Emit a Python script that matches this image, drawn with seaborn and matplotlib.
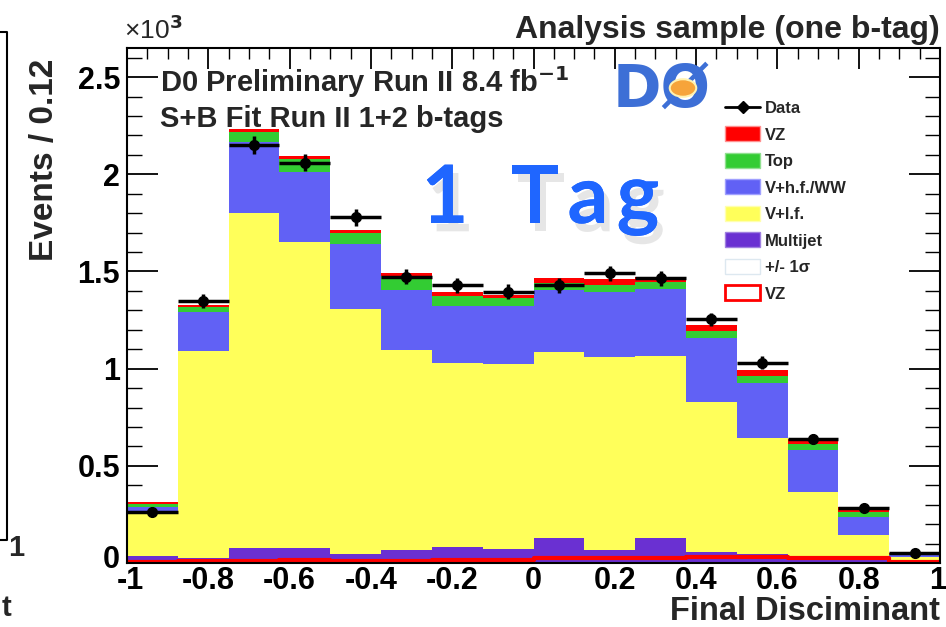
import numpy as np
import pandas as pd
import matplotlib
matplotlib.use("Agg")
import matplotlib.pyplot as plt
import seaborn as sns
from matplotlib.patches import Patch, Circle
from matplotlib.lines import Line2D
from matplotlib.ticker import MultipleLocator
from matplotlib.transforms import ScaledTranslation
import matplotlib.patheffects as pe

# ---------------- data (Events in units of 10^3) ----------------
edges = [-1.0, -0.875, -0.75, -0.625, -0.5, -0.375, -0.25, -0.125, 0.0,
         0.125, 0.25, 0.375, 0.5, 0.625, 0.75, 0.875, 1.0]
multijet = [0.035, 0.028, 0.077, 0.077, 0.046, 0.067, 0.080, 0.072, 0.129,
            0.067, 0.129, 0.057, 0.045, 0.035, 0.025, 0.012]
v_lf = [0.220, 1.065, 1.723, 1.573, 1.263, 1.031, 0.950, 0.952, 0.959,
        0.995, 0.938, 0.773, 0.599, 0.331, 0.119, 0.018]
v_hf_ww = [0.035, 0.197, 0.365, 0.360, 0.335, 0.309, 0.290, 0.296, 0.319,
           0.335, 0.345, 0.330, 0.284, 0.217, 0.093, 0.010]
top = [0.015, 0.025, 0.055, 0.067, 0.056, 0.072, 0.056, 0.046, 0.036,
       0.036, 0.036, 0.036, 0.036, 0.030, 0.026, 0.005]
vz = [0.007, 0.012, 0.012, 0.016, 0.011, 0.011, 0.016, 0.014, 0.025,
      0.026, 0.026, 0.031, 0.031, 0.026, 0.026, 0.005]
data = [0.265, 1.348, 2.150, 2.060, 1.778, 1.474, 1.428, 1.397, 1.428,
        1.490, 1.464, 1.253, 1.031, 0.639, 0.284, 0.050]

processes = ["VZ", "Top", "V+h.f./WW", "V+l.f.", "Multijet"]
series = {"VZ": vz, "Top": top, "V+h.f./WW": v_hf_ww, "V+l.f.": v_lf,
          "Multijet": multijet}
palette = {"VZ": "#ff0000", "Top": "#33cc33", "V+h.f./WW": "#6161f5",
           "V+l.f.": "#ffff5a", "Multijet": "#6a30d2"}

x_ticks = [-1, -0.8, -0.6, -0.4, -0.2, 0, 0.2, 0.4, 0.6, 0.8, 1]
x_tick_labels = ["-1", "-0.8", "-0.6", "-0.4", "-0.2", "0", "0.2", "0.4",
                 "0.6", "0.8", "1"]
y_ticks = [0, 0.5, 1, 1.5, 2, 2.5]
y_tick_labels = ["0", "0.5", "1", "1.5", "2", "2.5"]

legend_labels = ["Data", "VZ", "Top", "V+h.f./WW", "V+l.f.", "Multijet",
                 "+/- 1\u03c3", "VZ"]

# ---------------- build table ----------------
edges_a = np.array(edges)
centers = (edges_a[:-1] + edges_a[1:]) / 2
halfw = (edges_a[1:] - edges_a[:-1]) / 2
rows = []
for p in processes:
    for c, v in zip(centers, series[p]):
        rows.append({"x": c, "w": v, "process": p})
df = pd.DataFrame(rows)

sns.set_style("white")
plt.rcParams["font.family"] = ["Liberation Sans", "DejaVu Sans"]
plt.rcParams["font.weight"] = "bold"

W, H = 946, 627
fig = plt.figure(figsize=(W / 100, H / 100), dpi=100)
ax = fig.add_axes([127 / W, 1 - 563 / H, (940 - 127) / W, (563 - 48) / H])


def px(x, y):
    return x / W, 1 - y / H


sns.histplot(data=df, x="x", weights="w", hue="process", hue_order=processes,
             multiple="stack", bins=edges, element="step", fill=True,
             alpha=1, linewidth=0, palette=palette, legend=False, ax=ax,
             zorder=2)
sns.histplot(x=centers, weights=vz, bins=edges, element="step", fill=False,
             color="#ff0000", linewidth=3, ax=ax, zorder=3)

data_a = np.array(data)
yerr = np.sqrt(data_a * 1000) / 1000
ax.errorbar(centers, data_a, xerr=halfw, yerr=yerr, fmt="o", color="black",
            ms=7, elinewidth=2.5, capsize=0, zorder=5)

ax.set_xlim(-1, 1)
ax.set_ylim(0, 2.65)
ax.set_xlabel("")
ax.set_ylabel("")
ax.set_xticks(x_ticks)
ax.set_xticklabels(x_tick_labels)
ax.set_yticks(y_ticks)
ax.set_yticklabels(y_tick_labels)
ax.xaxis.set_minor_locator(MultipleLocator(0.05))
ax.yaxis.set_minor_locator(MultipleLocator(0.1))
ax.tick_params(which="both", direction="in", left=True, bottom=True,
               top=True, right=True, colors="black")
ax.tick_params(which="major", length=22, width=1.3, labelsize=22, pad=5)
ax.tick_params(which="minor", length=11, width=1.0)
ax.tick_params(axis="x", which="major", length=15, pad=2)
ax.tick_params(axis="x", which="minor", length=8)
for lab in ax.get_xticklabels() + ax.get_yticklabels():
    lab.set_fontweight("bold")
xl = ax.get_xticklabels()
xl[-1].set_horizontalalignment("right")
xl[-1].set_transform(xl[-1].get_transform() +
                     ScaledTranslation(6 / 100, 0, fig.dpi_scale_trans))
xl[0].set_transform(xl[0].get_transform() +
                    ScaledTranslation(3 / 100, 0, fig.dpi_scale_trans))
yl = ax.get_yticklabels()
yl[0].set_transform(yl[0].get_transform() +
                    ScaledTranslation(0, 6 / 100, fig.dpi_scale_trans))
for s in ax.spines.values():
    s.set_linewidth(1.5)
    s.set_color("black")
    s.set_zorder(6)

# ---------------- texts ----------------
fig.text(*px(940, 30), "Analysis sample (one b-tag)", ha="right",
         va="center", fontsize=23, fontweight="bold")
fig.text(*px(124, 30), "\u00d710$^{\\mathbf{3}}$", ha="left", va="center",
         fontsize=19, fontweight="normal")
fig.text(*px(45, 160), "Events / 0.12", rotation=90, ha="center",
         va="center", fontsize=24, fontweight="bold")
fig.text(*px(940, 612), "Final Disciminant", ha="right", va="center",
         fontsize=23.5, fontweight="bold")
fig.text(*px(160, 82), "D0 Preliminary Run II 8.4 fb$^{\\mathbf{-1}}$",
         ha="left", va="center", fontsize=21, fontweight="bold")
fig.text(*px(160, 119), "S+B Fit Run II 1+2 b-tags", ha="left",
         va="center", fontsize=21, fontweight="bold")

# D0 logo approximation
fig.text(*px(613, 90), "D\u00d8", ha="left", va="center", fontsize=42,
         fontweight="heavy", color="#3d6fd6", family=["DejaVu Sans"])
fig.patches.append(Circle(px(683, 88), 0.014, transform=fig.transFigure,
                          facecolor="#f6a43a", edgecolor="#fff2b0", lw=1.5,
                          zorder=10))

# "1 Tag" annotation (hand-drawn look approximated)
shadow = [pe.withSimplePatchShadow(offset=(4, -6), shadow_rgbFace="#777777",
                                   alpha=0.18), pe.Normal()]
for ch, xc in [("1", 445), ("T", 535), ("a", 588), ("g", 638)]:
    t = fig.text(*px(xc, 200), ch, ha="center", va="center", fontsize=58,
                 color="#1f66ff", family=["Lato", "DejaVu Sans"])
    t.set_path_effects(shadow)

# partial neighbouring panel on the left edge
fig.add_artist(Line2D([0, 7 / W, 7 / W, 0],
                      [1 - 32 / H, 1 - 32 / H, 1 - 540 / H, 1 - 540 / H],
                      transform=fig.transFigure, color="black", lw=1.5))
fig.text(*px(16, 548), "1", ha="center", va="center", fontsize=21,
         fontweight="bold")
fig.text(*px(6, 608), "t", ha="center", va="center", fontsize=21,
         fontweight="bold")

# ---------------- legend ----------------
handles = [
    Line2D([], [], color="black", marker="D", ms=6, lw=2),
    Patch(facecolor=palette["VZ"], edgecolor="#ff9090"),
    Patch(facecolor=palette["Top"], edgecolor="#90e090"),
    Patch(facecolor=palette["V+h.f./WW"], edgecolor="#a0a0ff"),
    Patch(facecolor=palette["V+l.f."], edgecolor="#ffffb0"),
    Patch(facecolor=palette["Multijet"], edgecolor="#a080e0"),
    Patch(facecolor="white", edgecolor="#dde8f0", lw=1),
    Patch(facecolor="white", edgecolor="#ff0000", lw=2),
]
leg = fig.legend(handles, legend_labels, loc="upper left",
                 bbox_to_anchor=px(725, 100), frameon=False,
                 prop={"size": 12, "weight": "bold"}, handlelength=2.1,
                 handleheight=1.0, labelspacing=0.62, handletextpad=0.3,
                 borderaxespad=0, borderpad=0)

fig.savefig("out.png", dpi=100, facecolor="white")
